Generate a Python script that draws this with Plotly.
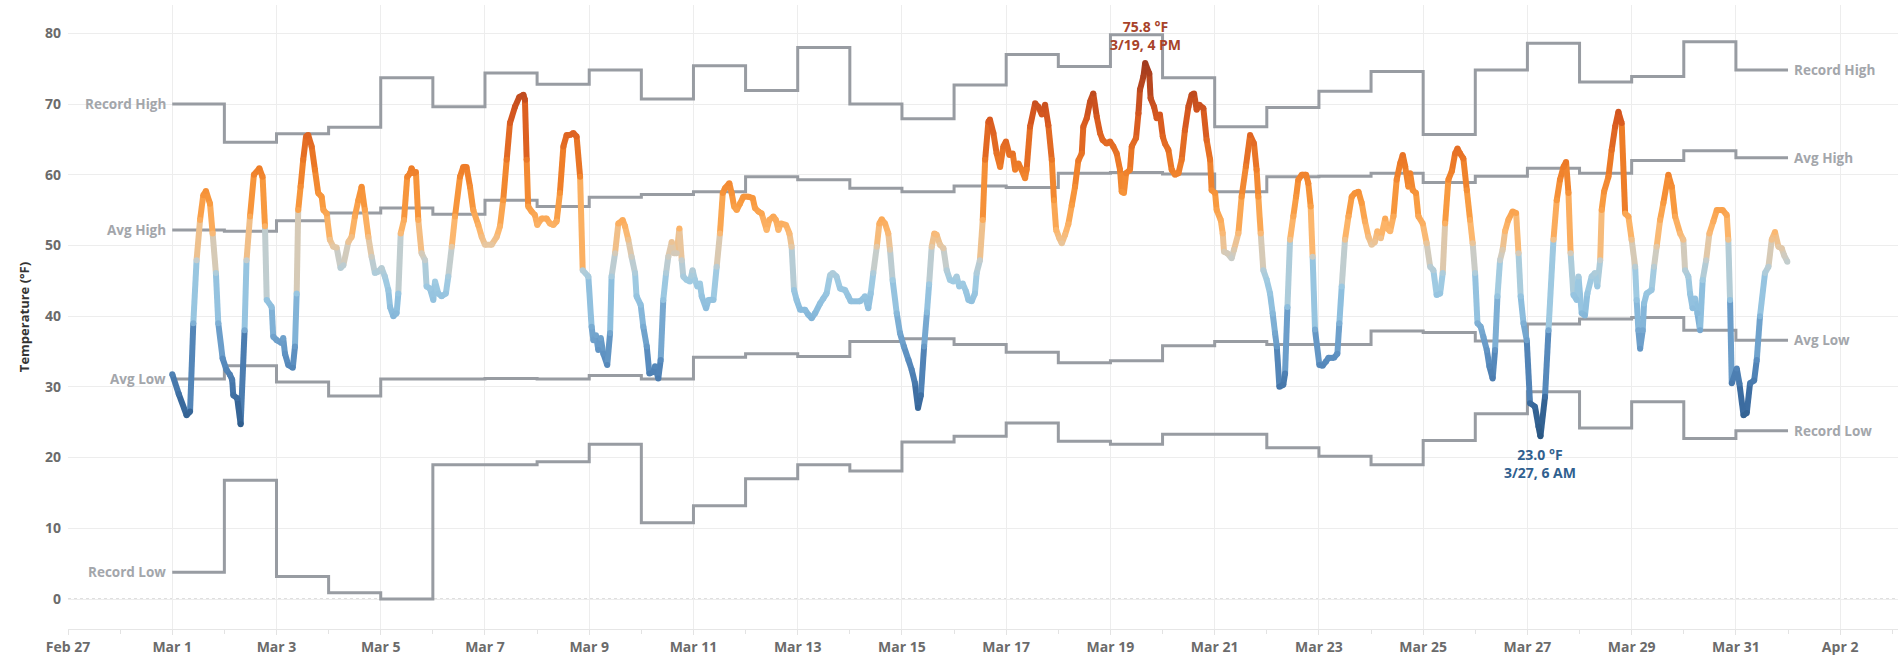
import numpy as np
import pandas as pd
import plotly.graph_objects as go

# ---------------- data ----------------
BASE = "2023-03-01"
day_starts = pd.date_range(BASE, periods=31, freq="D")

record_high = [70.0, 64.6, 65.8, 66.7, 73.7, 69.6, 74.4, 72.8, 74.8, 70.7, 75.4, 71.9, 78.0, 70.0, 67.9, 72.7,
               77.0, 75.3, 79.8, 73.7, 66.8, 69.5, 71.8, 74.6, 65.7, 74.8, 78.6, 73.1, 73.9, 78.8, 74.8]
avg_high = [52.2, 52.0, 53.5, 54.6, 55.3, 54.4, 56.4, 55.5, 56.8, 57.2, 57.6, 59.7, 59.3, 58.1, 57.6, 58.4,
            58.2, 60.2, 60.3, 60.1, 57.6, 59.7, 59.8, 60.2, 58.9, 59.8, 60.9, 60.2, 62.0, 63.4, 62.4]
avg_low = [31.1, 33.0, 30.7, 28.7, 31.1, 31.1, 31.2, 31.1, 31.6, 31.1, 34.2, 34.7, 34.3, 36.4, 36.8, 36.0,
           34.9, 33.4, 33.7, 35.8, 36.4, 36.0, 36.0, 37.9, 37.7, 36.5, 38.9, 39.6, 39.8, 38.0, 36.6]
record_low = [3.8, 16.8, 3.2, 0.9, 0.0, 19.0, 19.0, 19.4, 21.9, 10.8, 13.2, 17.0, 19.0, 18.1, 22.2, 23.0,
              24.9, 22.3, 21.9, 23.3, 23.3, 21.4, 20.2, 19.0, 22.4, 26.2, 29.3, 24.2, 27.9, 22.7, 23.8]

# hourly temperature readings: hours after Mar 1 00:00, and temperature (F)
hours = [0, 3, 6.6, 8.2, 9.7, 11.2, 12.8, 14.3, 15.5, 17.4, 18.6, 20.1, 21.2, 23.2, 25.0, 26.6, 27.6, 28.1,
         29.9, 31.5, 33.3, 34.2, 35.8, 37.6, 40.1, 41.6, 42.7, 43.5, 45.8, 46.5, 48.1, 50.4, 51.1, 51.9, 53.4,
         55.5, 56.5, 57.3, 58.0, 59.1, 60.3, 61.6, 62.6, 64.2, 65.7, 67.2, 68.8, 69.6, 71.1, 72.6, 74.2, 75.7,
         77.5, 78.8, 81.1, 82.6, 84.1, 85.7, 87.2, 88.7, 90.3, 91.8, 93.3, 94.9, 96.4, 97.9, 99.5, 100.3,
         101.8, 103.3, 104.1, 105.2, 106.7, 108.2, 109.5, 110.2, 111.3, 112.2, 113.3, 114.8, 116.4, 117.1,
         118.7, 120.2, 121.0, 122.5, 124.0, 126.0, 127.1, 128.7, 130.2, 132.5, 134.0, 135.5, 137.1, 138.6,
         140.9, 142.5, 144.0, 147.1, 149.4, 150.9, 152.4, 154.0, 155.5, 157.8, 159.8, 161.7, 162.4, 163.2,
         163.9, 165.5, 167.0, 168.1, 170.1, 172.4, 173.9, 175.5, 177.0, 178.5, 180.1, 181.6, 183.1, 184.7,
         186.2, 187.8, 189.0, 191.6, 193.1, 193.9, 195.1, 196.2, 197.3, 198.5, 200.3, 201.6, 202.3, 203.9,
         205.4, 207.4, 208.5, 210.0, 211.5, 213.1, 213.8, 215.7, 216.9, 218.5, 219.7, 221.5, 222.3, 223.8,
         224.9, 226.1, 227.4, 228.4, 230.0, 231.0, 232.3, 233.5, 234.6, 235.3, 236.9, 238.4, 239.6, 240.7,
         241.8, 243.0, 243.8, 245.8, 246.9, 249.2, 250.7, 252.2, 253.5, 254.5, 256.5, 257.6, 258.7, 259.9,
         261.4, 263.0, 265.3, 267.3, 268.3, 269.9, 271.4, 273.7, 274.9, 276.8, 278.0, 279.1, 280.2, 282.6,
         284.2, 285.2, 286.3, 287.5, 289.1, 291.4, 292.9, 294.4, 296.0, 298.3, 299.8, 301.3, 302.9, 304.1,
         305.9, 307.5, 309.8, 311.3, 312.4, 316.7, 319.0, 320.5, 321.6, 322.8, 324.4, 325.6, 326.7, 328.2,
         329.7, 330.5, 331.7, 333.6, 335.1, 336.9, 339.0, 340.5, 342.0, 343.4, 344.7, 346.2, 347.5, 348.5,
         349.7, 350.9, 352.0, 353.5, 355.1, 356.6, 358.1, 359.7, 361.2, 362.4, 364.0, 365.5, 366.6, 368.1,
         369.6, 370.4, 371.9, 373.2, 374.3, 375.8, 376.5, 378.1, 379.6, 381.2, 382.7, 383.9, 385.5, 387.0,
         388.1, 389.6, 391.1, 392.7, 393.4, 395.0, 397.3, 398.8, 400.4, 401.9, 403.4, 405.0, 406.0, 407.0,
         408.5, 409.6, 411.1, 412.6, 414.2, 415.7, 417.2, 418.8, 419.5, 421.1, 422.6, 424.1, 425.7, 427.2,
         428.4, 430.3, 431.8, 433.3, 434.9, 436.4, 437.2, 438.2, 439.2, 441.0, 441.8, 443.8, 444.9, 445.6,
         447.2, 448.0, 449.9, 450.5, 452.1, 453.3, 454.8, 456.1, 457.1, 458.7, 460.2, 461.7, 463.3, 464.8,
         466.3, 467.9, 469.4, 470.5, 471.7, 472.9, 474.8, 476.3, 477.9, 478.6, 480.2, 480.9, 482.8, 483.7,
         484.3, 485.8, 487.8, 488.9, 490.9, 492.4, 494.4, 496.3, 498.1, 499.3, 500.1, 501.2, 502.4, 504.0,
         505.5, 506.7, 507.8, 508.6, 509.8, 511.6, 512.4, 513.5, 514.7, 516.2, 517.5, 518.5, 520.1, 522.1,
         523.1, 524.2, 525.1, 526.2, 528.2, 529.7, 531.3, 532.4, 534.9, 536.5, 537.4, 538.5, 540.0, 541.6,
         543.1, 544.6, 546.2, 547.7, 549.2, 550.8, 552.3, 553.8, 554.9, 556.5, 558.5, 559.5, 560.8, 562.3,
         563.8, 565.4, 566.6, 567.7, 569.2, 570.0, 571.2, 572.7, 573.8, 575.8, 577.6, 579.2, 580.7, 582.2,
         583.8, 585.0, 586.1, 587.6, 589.2, 590.7, 591.8, 593.0, 594.5, 596.1, 597.6, 598.8, 599.9, 601.0,
         602.5, 603.7, 605.3, 606.5, 608.0, 609.1, 610.2, 611.4, 612.6, 613.7, 615.2, 617.2, 618.8, 619.9,
         620.9, 622.2, 623.7, 625.2, 627.5, 629.1, 630.0, 632.1, 633.7, 636.0, 637.5, 639.0, 640.6, 641.8,
         642.9, 643.9, 645.2, 646.7, 647.5, 649.0, 650.5, 651.6, 653.6, 655.1, 656.2, 657.5, 658.2, 659.3,
         661.3, 662.8, 664.4, 665.9, 667.4, 669.0, 670.5, 672.0, 673.6, 674.3, 675.1, 675.9, 677.1, 677.7,
         678.9, 681.2, 682.3, 683.5, 685.1, 686.6, 688.9, 690.5, 692.0, 694.3, 695.8, 696.6, 698.1, 698.9,
         700.1, 701.2, 702.3, 703.5, 704.7, 706.3, 707.8, 709.6, 711.2, 713.9, 715.8, 716.5, 717.3, 718.1,
         720.4, 721.6, 723.5, 725.0, 726.5, 728.4, 729.6, 731.1, 733.4, 735.0, 736.5, 738.0, 739.6, 741.1,
         742.2, 743.7]
temps = [31.8, 29.0, 26.0, 26.5, 39.0, 47.9, 53.6, 57.1, 57.7, 55.9, 51.7, 46.1, 39.0, 34.0, 32.4, 31.7, 31.0, 28.8,
         28.4, 24.7, 38.0, 47.9, 54.1, 60.0, 60.9, 59.7, 52.7, 42.3, 41.3, 37.1, 36.6, 36.2, 36.9, 34.7, 33.1,
         32.7, 35.7, 43.2, 55.0, 58.3, 62.1, 65.4, 65.6, 64.0, 60.7, 57.4, 56.9, 55.0, 54.5, 50.8, 49.8, 49.7,
         46.8, 47.2, 50.5, 51.2, 54.1, 56.4, 58.3, 55.0, 51.2, 48.4, 46.1, 46.3, 46.8, 45.6, 43.7, 41.3,
         40.0, 40.4, 43.2, 51.7, 53.6, 59.7, 60.2, 60.9, 60.2, 60.4, 53.6, 48.9, 47.9, 44.2,
         43.9, 42.3, 44.9, 43.2, 42.8, 43.2, 45.6, 49.8, 54.1, 59.7, 61.1, 61.1, 58.3, 55.0,
         52.9, 51.2, 50.1, 50.1, 51.2, 52.7, 56.4, 62.1, 67.3, 69.6, 71.0, 71.3, 70.6, 62.1,
         55.5, 54.8, 54.3, 52.9, 53.8, 53.8, 53.1, 52.9, 53.4, 57.4, 64.0, 65.6, 65.6, 65.9,
         65.4, 59.7, 46.5, 45.6, 38.5, 36.6, 37.3, 35.2, 36.9, 34.7, 33.1, 37.6, 45.6, 48.9,
         53.1, 53.6, 52.7, 50.8, 48.4, 46.1, 42.8, 41.6, 38.5, 35.7, 31.9, 32.1, 32.9, 31.2,
         33.8, 42.3, 46.1, 48.4, 50.5, 48.9, 48.9, 52.4, 47.9, 45.6, 45.1, 44.9, 46.5, 45.1,
         44.2, 44.6, 42.8, 41.1, 42.3, 42.3, 47.0, 51.7, 57.4, 58.1, 58.8, 57.4, 55.5, 55.0,
         55.9, 56.9, 56.9, 56.7, 55.3, 54.8, 54.5, 52.2, 53.6, 54.1, 53.6, 52.2, 53.1, 52.9,
         51.7, 49.8, 43.7, 42.3, 40.9, 40.9, 40.2, 39.7, 40.4, 41.8, 42.5, 43.2, 45.8, 46.1,
         45.6, 43.9, 43.7, 42.8, 42.1, 42.1, 42.8, 41.1, 43.2, 46.1, 49.8, 53.1, 53.7, 53.1,
         51.7, 49.4, 45.1, 40.4, 37.6, 35.7, 33.8, 32.4, 30.5, 27.0, 28.8, 35.7, 40.5, 44.5,
         49.8, 51.7, 51.5, 50.1, 49.6, 46.5, 45.1, 44.9, 45.6, 44.2, 44.6, 43.5, 42.3, 42.1,
         43.2, 46.1, 47.9, 53.6, 62.1, 67.5, 67.8, 65.9, 63.0, 61.1, 64.0, 64.7, 62.8, 63.0,
         60.7, 61.6, 60.7, 59.5, 60.7, 66.8, 70.1, 69.6, 68.5, 69.9, 67.0, 62.1, 56.4, 52.2,
         51.0, 50.3, 51.5, 53.0, 55.7, 58.3, 62.0, 63.0, 66.8, 68.0, 70.3, 71.5, 68.2, 65.9,
         64.9, 64.4, 64.7, 64.0, 63.0, 60.7, 57.6, 57.4, 60.2, 60.7, 64.0, 65.2, 68.7, 72.0,
         73.9, 75.8, 74.3, 70.8, 69.6, 68.0, 68.5, 65.4, 64.4, 63.5, 60.7, 60.0, 60.2, 62.1,
         66.3, 69.6, 71.3, 71.5, 69.2, 69.9, 69.4, 64.9, 62.1, 57.8, 57.4, 55.0, 53.6, 51.7,
         49.1, 48.9, 48.2, 49.4, 51.7, 56.9, 61.2, 65.6, 64.4, 60.7, 56.9, 51.7, 46.5, 45.1,
         43.2, 40.4, 37.6, 35.7, 30.0, 30.3, 31.9, 41.3, 50.8, 54.1, 56.9, 59.3, 60.0, 60.0,
         58.8, 55.5, 48.4, 38.1, 33.1, 33.0, 33.6, 34.1, 34.1, 34.7, 39.0, 44.2, 50.8, 54.1,
         56.9, 57.4, 57.6, 56.0, 53.4, 51.2, 50.1, 50.5, 52.0, 51.0, 53.8, 52.4, 52.0, 54.1,
         59.3, 61.6, 62.8, 61.2, 58.3, 60.2, 57.8, 57.4, 54.1, 53.1, 50.3, 47.0, 46.5, 43.0,
         43.2, 46.1, 53.1, 59.3, 60.5, 63.0, 63.7, 63.0, 62.3, 57.8, 53.6, 50.3, 46.1, 39.0,
         38.5, 37.1, 35.2, 32.9, 31.2, 35.2, 42.8, 47.9, 49.4, 52.0, 53.6, 54.8, 54.6, 48.9,
         42.8, 39.0, 36.6, 27.7, 27.2, 24.4, 23.0, 28.6, 38.0, 50.8, 56.4, 59.3, 61.1, 61.8,
         57.4, 48.9, 43.0, 42.3, 45.6, 40.4, 40.1, 43.2, 45.6, 46.1, 44.2, 47.9, 55.0, 57.6,
         59.7, 63.5, 66.8, 68.9, 67.3, 54.5, 54.1, 50.8, 47.0, 42.3, 38.0, 35.4, 38.0, 41.8,
         43.2, 43.7, 47.0, 49.8, 53.6, 56.0, 60.0, 58.3, 54.1, 51.7, 50.8, 46.5, 45.6, 43.2,
         41.1, 42.5, 40.4, 38.0, 45.1, 47.9, 51.7, 53.4, 55.0, 55.0, 54.3, 50.8, 42.3, 30.5,
         32.6, 30.5, 26.0, 26.3, 30.5, 30.9, 33.8, 40.0, 46.1, 47.0, 50.8, 51.9, 49.8, 49.6,
         48.6, 47.7]

tick_dates = ["2023-02-27", "2023-03-01", "2023-03-03", "2023-03-05", "2023-03-07", "2023-03-09",
              "2023-03-11", "2023-03-13", "2023-03-15", "2023-03-17", "2023-03-19", "2023-03-21",
              "2023-03-23", "2023-03-25", "2023-03-27", "2023-03-29", "2023-03-31", "2023-04-02"]
tick_labels = ["Feb 27", "Mar 1", "Mar 3", "Mar 5", "Mar 7", "Mar 9", "Mar 11", "Mar 13", "Mar 15",
               "Mar 17", "Mar 19", "Mar 21", "Mar 23", "Mar 25", "Mar 27", "Mar 29", "Mar 31", "Apr 2"]
y_ticks = [0, 10, 20, 30, 40, 50, 60, 70, 80]

# ---------------- styling ----------------
FONT = "Open Sans"
GRAY = "#989ca2"
LABEL_GRAY = "#a3a6ab"
GRID = "#ededed"
stops = [(23, "#2a5783"), (28, "#3b6b9f"), (34, "#5a8dbf"), (41, "#8cbddd"), (45, "#a0cbe2"),
         (48, "#c6cdcb"), (50, "#e6c7a2"), (52, "#fcb76e"), (56, "#f99b40"), (61, "#ee7d28"),
         (68, "#d7581f"), (76, "#a03a1f")]
s_t = np.array([s[0] for s in stops], float)
s_rgb = np.array([[int(c[i:i + 2], 16) for i in (1, 3, 5)] for _, c in stops], float)


def temp_color(t):
    rgb = [np.interp(t, s_t, s_rgb[:, k]) for k in range(3)]
    return "#%02x%02x%02x" % tuple(int(round(v)) for v in rgb)


base = pd.Timestamp(BASE)
times = [base + pd.Timedelta(hours=h) for h in hours]
t_str = [t.strftime("%Y-%m-%d %H:%M:%S") for t in times]

fig = go.Figure()

# step lines (normals / records)
step_series = [("Record High", record_high), ("Avg High", avg_high), ("Avg Low", avg_low), ("Record Low", record_low)]
x_step = [d.strftime("%Y-%m-%d") for d in day_starts] + [(day_starts[-1] + pd.Timedelta(days=1)).strftime("%Y-%m-%d")]
annotations = []
lab_font = dict(family=FONT, size=13.5, color=LABEL_GRAY, weight="bold")
for name, vals in step_series:
    fig.add_trace(go.Scatter(x=x_step, y=list(vals) + [vals[-1]], mode="lines",
                             line=dict(color=GRAY, width=3, shape="hv"), hoverinfo="skip", showlegend=False))
    annotations.append(dict(x=x_step[0], y=vals[0], text=name, showarrow=False, xanchor="right", xshift=-4,
                            font=lab_font))
    annotations.append(dict(x=x_step[-1], y=vals[-1], text=name, showarrow=False, xanchor="left", xshift=4,
                            font=lab_font))

# temperature line, coloured by value: segments grouped by colour
LW = 6
groups = {}
for i in range(len(temps) - 1):
    c = temp_color(round((temps[i] + temps[i + 1]) / 2 * 4) / 4)
    g = groups.setdefault(c, ([], []))
    g[0].extend([t_str[i], t_str[i + 1], None])
    g[1].extend([temps[i], temps[i + 1], None])
for c, (gx, gy) in groups.items():
    fig.add_trace(go.Scatter(x=gx, y=gy, mode="lines", line=dict(color=c, width=LW),
                             hoverinfo="skip", showlegend=False, connectgaps=False))

cscale = [[(t - s_t[0]) / (s_t[-1] - s_t[0]), c] for t, c in stops]
fig.add_trace(go.Scatter(x=t_str, y=temps, mode="markers",
                         marker=dict(size=LW, color=temps, colorscale=cscale, cmin=s_t[0], cmax=s_t[-1],
                                     line=dict(width=0)),
                         hovertemplate="%{x}<br>%{y:.1f} °F<extra></extra>", showlegend=False))

# max / min labels
i_max = int(np.argmax(temps))
i_min = int(np.argmin(temps))


def when(t):
    hr = t.hour % 12 or 12
    return f"{t.month}/{t.day}, {hr} {'AM' if t.hour < 12 else 'PM'}"


annotations.append(dict(x=t_str[i_max], y=temps[i_max], text=f"{temps[i_max]:.1f} °F<br>{when(times[i_max])}",
                        showarrow=False, yanchor="bottom", yshift=7,
                        font=dict(family=FONT, size=14, color="#a8432a", weight="bold")))
annotations.append(dict(x=t_str[i_min], y=temps[i_min], text=f"{temps[i_min]:.1f} °F<br>{when(times[i_min])}",
                        showarrow=False, yanchor="top", yshift=-7,
                        font=dict(family=FONT, size=14, color="#30608f", weight="bold")))

x_end = base + pd.Timedelta(days=33.11)

fig.add_hline(y=0, line=dict(color="#bdbdbd", width=1, dash="dot"), layer="below")

tick_font = dict(family=FONT, size=14, color="#6b6b6b", weight="bold")
fig.update_layout(
    width=1898, height=659,
    margin=dict(l=68, r=0, t=5, b=30),
    paper_bgcolor="white", plot_bgcolor="white",
    annotations=annotations,
    showlegend=False,
    xaxis=dict(type="date", range=["2023-02-27", x_end.strftime("%Y-%m-%d %H:%M:%S")],
               tickmode="array", tickvals=tick_dates, ticktext=tick_labels,
               showgrid=True, gridcolor=GRID, gridwidth=1,
               ticks="outside", ticklen=5, tickcolor="#e3e3e3",
               showline=True, linecolor="#e6e6e6", linewidth=1,
               minor=dict(ticks="outside", ticklen=4, tickcolor="#e3e3e3", tickmode="linear",
                          tick0="2023-02-28", dtick=2 * 86400000, showgrid=False),
               tickfont=tick_font, zeroline=False, fixedrange=True),
    yaxis=dict(range=[-4.24, 84.0], tickmode="array", tickvals=y_ticks,
               showgrid=True, gridcolor=GRID, gridwidth=1, zeroline=False, showline=False,
               ticks="", ticklabelstandoff=6, tickfont=tick_font,
               title=dict(text="Temperature (°F)", standoff=12,
                          font=dict(family=FONT, size=13, color="#333333", weight="bold"))),
)

fig.write_html("out.html", config={"displayModeBar": False},
               post_script="document.body.style.margin='0';document.body.style.overflow='hidden';")
